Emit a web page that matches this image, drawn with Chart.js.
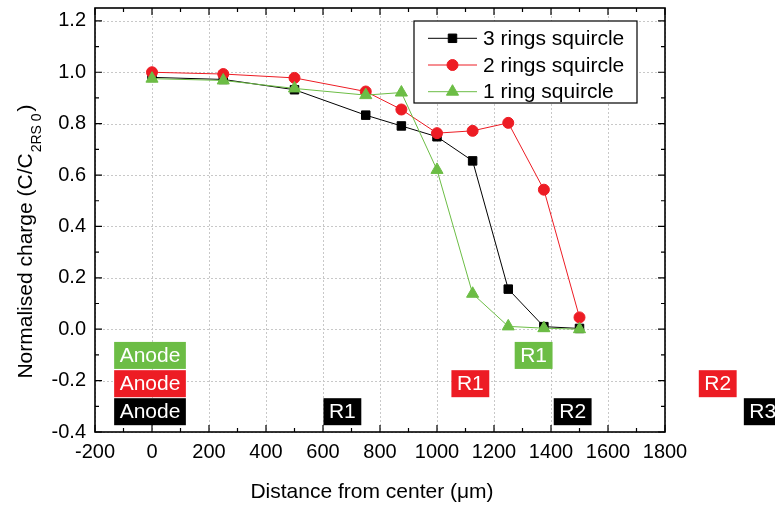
<!DOCTYPE html>
<html><head><meta charset="utf-8">
<script src="https://cdn.jsdelivr.net/npm/chart.js@4/dist/chart.umd.min.js"></script>
<style>html,body{margin:0;padding:0;background:#fff;} #wrap{width:775px;height:506px;position:relative;}</style>
</head><body><div id="wrap"><canvas id="c" width="775" height="506"></canvas></div>
<script>
// ---- data ----
const distances = [0, 250, 500, 750, 875, 1000, 1125, 1250, 1375, 1500];
const seriesNames = ['3 rings squircle', '2 rings squircle', '1 ring squircle'];
const rings3 = [0.98, 0.972, 0.932, 0.833, 0.791, 0.749, 0.655, 0.156, 0.01, 0.003];
const rings2 = [1.0, 0.993, 0.978, 0.925, 0.855, 0.763, 0.772, 0.803, 0.543, 0.046];
const rings1 = [0.975, 0.968, 0.937, 0.911, 0.921, 0.62, 0.138, 0.011, 0.004, 0.0];
const xTicks = [-200, 0, 200, 400, 600, 800, 1000, 1200, 1400, 1600, 1800];
const xMinor = [-100, 100, 300, 500, 700, 900, 1100, 1300, 1500, 1700];
const yTicks = [-0.4, -0.2, 0.0, 0.2, 0.4, 0.6, 0.8, 1.0, 1.2];
const yMinor = [-0.3, -0.1, 0.1, 0.3, 0.5, 0.7, 0.9, 1.1];
const xTitle = 'Distance from center (\u03BCm)';
const yTitleMain = 'Normalised charge (C/C';
const yTitleSub = '2RS 0';
const yTitleEnd = ')';
// annotation labels (text, x in µm, y in normalised charge, series index for colour)
const annoText = ['Anode', 'R1', 'Anode', 'R1', 'R2', 'Anode', 'R1', 'R2', 'R3'];
const annoX = [-7, 1339, -7, 1117, 1985, -7, 668, 1476, 2143];
const annoY = [-0.102, -0.102, -0.212, -0.212, -0.212, -0.321, -0.321, -0.321, -0.321];
const annoSeries = [2, 2, 1, 1, 1, 0, 0, 0, 0];

const colors = ['#000000', '#ed1c24', '#6cbd45'];
const FONT = '"Liberation Sans", Arial, Helvetica, sans-serif';
Chart.defaults.font.family = FONT;
Chart.defaults.color = '#000';

function mk(vals) { return distances.map((x, i) => ({x: x, y: vals[i]})); }

const decor = {
  id: 'decor',
  beforeDatasetsDraw(chart) {
    const {ctx, chartArea: a, scales: {x, y}} = chart;
    ctx.save();
    ctx.strokeStyle = '#c8c8c8'; ctx.lineWidth = 1; ctx.setLineDash([2, 2]);
    xTicks.forEach(v => { const p = Math.round(x.getPixelForValue(v)) + 0.5; ctx.beginPath(); ctx.moveTo(p, a.top); ctx.lineTo(p, a.bottom); ctx.stroke(); });
    yTicks.forEach(v => { const p = Math.round(y.getPixelForValue(v)) + 0.5; ctx.beginPath(); ctx.moveTo(a.left, p); ctx.lineTo(a.right, p); ctx.stroke(); });
    ctx.restore();
  },
  afterDatasetsDraw(chart) {
    const {ctx, scales: {x, y}} = chart;
    ctx.save();
    ctx.font = '21px ' + FONT;
    ctx.textAlign = 'center'; ctx.textBaseline = 'middle';
    annoText.forEach((t, i) => {
      const cx = x.getPixelForValue(annoX[i]);
      const cy = y.getPixelForValue(annoY[i]);
      const w = ctx.measureText(t).width + 11;
      const h = 27;
      ctx.fillStyle = colors[annoSeries[i]];
      ctx.fillRect(cx - w / 2, cy - h / 2, w, h);
      ctx.fillStyle = '#fff';
      ctx.fillText(t, cx, cy + 1);
    });
    ctx.restore();
  },
  afterDraw(chart) {
    const {ctx, chartArea: a, scales: {x, y}} = chart;
    ctx.save();
    // ticks (inward, all four sides)
    ctx.strokeStyle = '#000'; ctx.lineWidth = 1.2;
    const tk = (vals, len) => {
      vals.forEach(v => {
        const p = x.getPixelForValue(v);
        ctx.beginPath(); ctx.moveTo(p, a.bottom); ctx.lineTo(p, a.bottom - len);
        ctx.moveTo(p, a.top); ctx.lineTo(p, a.top + len); ctx.stroke();
      });
    };
    tk(xTicks, 7); tk(xMinor, 4);
    const tky = (vals, len) => {
      vals.forEach(v => {
        const p = y.getPixelForValue(v);
        ctx.beginPath(); ctx.moveTo(a.left, p); ctx.lineTo(a.left + len, p);
        ctx.moveTo(a.right, p); ctx.lineTo(a.right - len, p); ctx.stroke();
      });
    };
    tky(yTicks, 7); tky(yMinor, 4);
    // frame
    ctx.lineWidth = 1.6;
    ctx.strokeRect(a.left, a.top, a.right - a.left, a.bottom - a.top);

    // x title
    ctx.fillStyle = '#000';
    ctx.font = '21px ' + FONT;
    ctx.textAlign = 'center'; ctx.textBaseline = 'alphabetic';
    ctx.fillText(xTitle, 372, 498);

    // y title with subscript
    ctx.save();
    ctx.translate(32, 243);
    ctx.rotate(-Math.PI / 2);
    ctx.textAlign = 'left';
    ctx.font = '21px ' + FONT;
    const w1 = ctx.measureText(yTitleMain).width;
    const w3 = ctx.measureText(yTitleEnd).width;
    ctx.font = '14px ' + FONT;
    const w2 = ctx.measureText(yTitleSub).width;
    let sx = -(w1 + w2 + w3) / 2;
    ctx.font = '21px ' + FONT;
    ctx.fillText(yTitleMain, sx, 0);
    ctx.font = '14px ' + FONT;
    ctx.fillText(yTitleSub, sx + w1 + 1, 9);
    ctx.font = '21px ' + FONT;
    ctx.fillText(yTitleEnd, sx + w1 + w2 + 3, 0);
    ctx.restore();

    // legend
    const L = {left: 414, top: 21, right: 637, bottom: 103};
    ctx.fillStyle = '#fff';
    ctx.fillRect(L.left, L.top, L.right - L.left, L.bottom - L.top);
    ctx.strokeStyle = '#000'; ctx.lineWidth = 1.2;
    ctx.strokeRect(L.left, L.top, L.right - L.left, L.bottom - L.top);
    const rows = [38.3, 65, 91.7];
    chart.data.datasets.forEach((ds, i) => {
      const ry = rows[i];
      ctx.strokeStyle = ds.borderColor; ctx.lineWidth = 1;
      ctx.beginPath(); ctx.moveTo(428, ry); ctx.lineTo(477, ry); ctx.stroke();
      ctx.fillStyle = ds.backgroundColor;
      Chart.helpers.drawPoint(ctx, {pointStyle: ds.pointStyle, radius: ds.pointRadius, rotation: 0, borderWidth: 1}, 452.5, ry);
      ctx.fillStyle = '#000';
      ctx.font = '21px ' + FONT;
      ctx.textAlign = 'left'; ctx.textBaseline = 'middle';
      ctx.fillText(ds.label, 483, ry + 1);
    });
    ctx.restore();
  }
};

new Chart(document.getElementById('c'), {
  type: 'line',
  data: {
    datasets: [
      {label: seriesNames[0], data: mk(rings3), borderColor: colors[0], backgroundColor: colors[0], borderWidth: 1, pointStyle: 'rect', pointRadius: 6, pointBorderWidth: 1, order: 3},
      {label: seriesNames[1], data: mk(rings2), borderColor: colors[1], backgroundColor: colors[1], borderWidth: 1, pointStyle: 'circle', pointRadius: 5.5, pointBorderWidth: 1, order: 2},
      {label: seriesNames[2], data: mk(rings1), borderColor: colors[2], backgroundColor: colors[2], borderWidth: 1, pointStyle: 'triangle', pointRadius: 7, pointBorderWidth: 1, order: 1}
    ]
  },
  options: {
    responsive: false,
    animation: false,
    devicePixelRatio: 1,
    layout: {padding: {left: 0, top: 8, right: 110, bottom: 0}},
    plugins: {legend: {display: false}, tooltip: {enabled: false}},
    elements: {line: {tension: 0}},
    scales: {
      x: {
        type: 'linear', min: -200, max: 1800,
        afterBuildTicks: s => { s.ticks = xTicks.map(v => ({value: v})); },
        afterFit: s => { s.height = 74; s.paddingLeft = 0; s.paddingRight = 0; },
        ticks: {font: {size: 20}, color: '#000', padding: 8, maxRotation: 0, autoSkip: false, callback: v => String(v)},
        grid: {display: false, drawTicks: false},
        border: {display: false}
      },
      y: {
        type: 'linear', min: -0.4, max: 1.25,
        afterBuildTicks: s => { s.ticks = yTicks.map(v => ({value: v})); },
        afterFit: s => { s.width = 95; s.paddingTop = 0; s.paddingBottom = 0; },
        ticks: {font: {size: 20}, color: '#000', padding: 9, autoSkip: false, callback: v => Number(v).toFixed(1)},
        grid: {display: false, drawTicks: false},
        border: {display: false}
      }
    }
  },
  plugins: [decor]
});
</script>
</body></html>
